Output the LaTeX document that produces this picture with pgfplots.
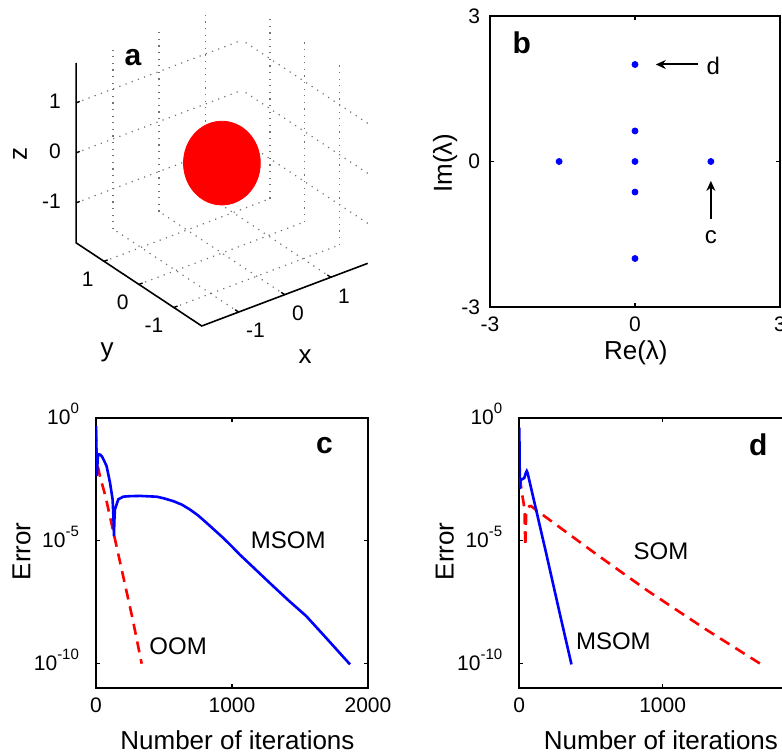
\documentclass[border=0pt]{standalone}
\usepackage{fontspec}
\setmainfont{Liberation Sans}
\usepackage{pgfplots}
\pgfplotsset{compat=1.18}
\usetikzlibrary{arrows.meta}

\newcommand\tickfont{\fontsize{10.5}{12}\selectfont}
\newcommand\labfont{\fontsize{13}{15}\selectfont}
\newcommand\txtfont{\fontsize{12}{14}\selectfont}
\newcommand\panfont{\fontsize{15}{17}\bfseries\selectfont}
\newcommand\ex[1]{\raisebox{5.8pt}[0pt][0pt]{\fontsize{7.5}{8}\selectfont#1}}

\tikzset{gridst/.style={black!55, line width=0.6pt, dash pattern=on 0.6pt off 2.7pt}}
\pgfplotsset{
  panel/.style={scale only axis, axis line style={line width=0.9pt},
    tick align=inside, major tick length=2pt,
    every tick/.style={black, line width=0.7pt},
    tick label style={font=\tickfont}, label style={font=\labfont},
    xticklabel style={yshift=-1.3pt}, yticklabel style={xshift=-1.5pt}},
  err/.style={panel, ymin=-11, ymax=0, ytick={-10,-5,0},
    yticklabels={10\ex{-10},10\ex{-5},10\ex{0}},
    yticklabel style={xshift=-3.5pt},
    xmin=0, xmax=2000, xtick={0,1000,2000}, xticklabels={0,1000,2000},
    height=135.3pt, ylabel={Error}, xlabel={Number of iterations}},
  msom/.style={blue, line width=1.3pt},
  oom/.style={red, line width=1.3pt, dash pattern=on 5.5pt off 3.5pt}
}

\begin{document}
\begin{tikzpicture}
\useasboundingbox (0,0) rectangle (391pt,376.5pt);
\clip (0,0) rectangle (391pt,376.5pt);

% (a) sphere in a box
\begin{axis}[at={(110.95pt,294.95pt)}, anchor=origin,
  x={(23.05pt,8.7pt)}, y={(-17.45pt,11.55pt)}, z={(0pt,25pt)},
  xmin=-1.8, xmax=1.8, ymin=-1.8, ymax=1.8, zmin=-1.8, zmax=1.8,
  hide axis, clip=false]
\pgfplotsinvokeforeach{-1,0,1}{
  \draw[gridst] (axis cs:#1,1.8,-1.8) -- (axis cs:#1,1.8,1.8);
  \draw[gridst] (axis cs:-1.8,1.8,#1) -- (axis cs:1.8,1.8,#1);
  \draw[gridst] (axis cs:1.8,#1,-1.8) -- (axis cs:1.8,#1,1.8);
  \draw[gridst] (axis cs:1.8,-1.8,#1) -- (axis cs:1.8,1.8,#1);
  \draw[gridst] (axis cs:#1,-1.8,-1.8) -- (axis cs:#1,1.8,-1.8);
  \draw[gridst] (axis cs:-1.8,#1,-1.8) -- (axis cs:1.8,#1,-1.8);
  \draw[line width=0.7pt] (axis cs:-1.8,1.8,#1) -- (axis cs:-1.72,1.8,#1);
  \draw[line width=0.7pt] (axis cs:-1.8,#1,-1.8) -- (axis cs:-1.72,#1,-1.8);
  \draw[line width=0.7pt] (axis cs:#1,-1.8,-1.8) -- (axis cs:#1,-1.7,-1.8);
}
\draw[line width=0.8pt] (axis cs:-1.8,1.8,1.8) -- (axis cs:-1.8,1.8,-1.8)
  -- (axis cs:-1.8,-1.8,-1.8) -- (axis cs:1.8,-1.8,-1.8);
\addplot3[only marks, mark=*, mark size=19.2pt, red,
  mark options={yscale=1.09, draw=red, fill=red}] coordinates {(0,0,0)};
\node[anchor=east, inner sep=0pt, xshift=-7.5pt, yshift=1pt, font=\tickfont] at (axis cs:-1.8,1.8,1) {1};
\node[anchor=east, inner sep=0pt, xshift=-7.5pt, yshift=1pt, font=\tickfont] at (axis cs:-1.8,1.8,0) {0};
\node[anchor=east, inner sep=0pt, xshift=-7.5pt, yshift=1pt, font=\tickfont] at (axis cs:-1.8,1.8,-1) {-1};
\node[anchor=north east, inner sep=0pt, xshift=-5pt, yshift=-5pt, font=\tickfont] at (axis cs:-1.8,1,-1.8) {1};
\node[anchor=north east, inner sep=0pt, xshift=-5pt, yshift=-5pt, font=\tickfont] at (axis cs:-1.8,0,-1.8) {0};
\node[anchor=north east, inner sep=0pt, xshift=-5pt, yshift=-5pt, font=\tickfont] at (axis cs:-1.8,-1,-1.8) {-1};
\node[anchor=north west, inner sep=0pt, xshift=3.5pt, yshift=-5.5pt, font=\tickfont] at (axis cs:-1,-1.8,-1.8) {-1};
\node[anchor=north west, inner sep=0pt, xshift=3.5pt, yshift=-5.5pt, font=\tickfont] at (axis cs:0,-1.8,-1.8) {0};
\node[anchor=north west, inner sep=0pt, xshift=3.5pt, yshift=-5.5pt, font=\tickfont] at (axis cs:1,-1.8,-1.8) {1};
\end{axis}
\node[font=\labfont] at (152.5pt,198pt) {x};
\node[font=\labfont] at (53.5pt,200.5pt) {y};
\node[font=\labfont, rotate=90] at (10pt,299.5pt) {z};
\node[font=\panfont] at (66.5pt,347.5pt) {a};

% (b) eigenvalues
\begin{axis}[panel, at={(245pt,223pt)}, anchor=south west,
  width=145pt, height=145.5pt,
  xmin=-3, xmax=3, ymin=-3, ymax=3,
  xtick={-3,0,3}, ytick={-3,0,3}, xticklabels={-3,0,3}, yticklabels={-3,0,3},
  xlabel={Re(λ)}, ylabel={Im(λ)},
  xlabel style={at={(axis description cs:0.503,0)}, anchor=center, yshift=-23pt},
  ylabel style={at={(axis description cs:-0.155,0.494)}, anchor=center}]
\addplot[only marks, mark=*, mark size=1.5pt, blue] coordinates {
  (0,2) (0,0.63) (0,0) (0,-0.63) (0,-2) (-1.57,0) (1.57,0)};
\draw[line width=1pt, -{Stealth[length=5pt, width=4.5pt]}] (axis cs:1.30,2) -- (axis cs:0.43,2);
\draw[line width=1pt, -{Stealth[length=5pt, width=4.5pt]}] (axis cs:1.57,-1.19) -- (axis cs:1.57,-0.40);
\node[font=\txtfont] at (axis cs:1.62,1.98) {d};
\node[font=\txtfont] at (axis cs:1.57,-1.56) {c};
\node[font=\panfont] at (axis cs:-2.34,2.44) {b};
\end{axis}

% (c) error, OOM vs MSOM
\begin{axis}[err, at={(48pt,32.35pt)}, anchor=south west, width=136pt,
  xlabel style={at={(axis description cs:0.52,0)}, anchor=center, yshift=-25.8pt},
  ylabel style={at={(axis description cs:-0.2735,0.506)}, anchor=center}]
\addplot[oom] coordinates {(0,-0.5) (4,-1.3) (10,-1.9) (30,-2.4) (70,-3.2) (100,-3.95)
  (140,-4.95) (200,-6.45) (270,-8.2) (336,-10.0)};
\addplot[msom] coordinates {(0,-0.34) (3,-1.5) (5,-2.37) (8,-2.25) (12,-1.7) (17,-1.49)
  (30,-1.5) (42,-1.56) (60,-1.75) (78,-1.97) (103,-2.64) (122,-3.32) (128,-4.0)
  (132,-4.81) (135,-4.2) (139,-3.73) (150,-3.55) (164,-3.32) (200,-3.21) (250,-3.19)
  (323,-3.18) (400,-3.2) (445,-3.21) (500,-3.28) (567,-3.39) (630,-3.53) (690,-3.73)
  (750,-3.97) (812,-4.27) (870,-4.56) (934,-4.88) (1000,-5.24) (1056,-5.56)
  (1150,-6.05) (1301,-6.84) (1420,-7.45) (1545,-8.06) (1700,-9.0) (1868,-10.03)};
\node[font=\txtfont] at (axis cs:1413,-5.0) {MSOM};
\node[font=\txtfont] at (axis cs:604,-9.28) {OOM};
\node[font=\panfont] at (axis cs:1680,-1.15) {c};
\end{axis}

% (d) error, SOM vs MSOM
\begin{axis}[err, at={(259.65pt,32.35pt)}, anchor=south west, width=143.35pt,
  xlabel style={at={(axis description cs:0.494,0)}, anchor=center, yshift=-25.8pt},
  ylabel style={at={(axis description cs:-0.2595,0.506)}, anchor=center}]
\addplot[oom] coordinates {(0,-2.44) (8,-2.6) (16,-2.98) (28,-3.4) (36,-3.7) (42,-5.22)
  (48,-3.9) (58,-3.73) (70,-3.6) (82,-3.59) (105,-3.7) (549,-5.6) (899,-7.05)
  (1300,-8.6) (1705,-10.09)};
\addplot[msom] coordinates {(0,-0.4) (2,-1.5) (4,-2.9) (8,-2.55) (20,-2.5) (35,-2.45)
  (45,-2.25) (52,-2.17) (58,-2.25) (187,-5.5) (280,-7.9) (364,-10.03)};
\node[font=\txtfont] at (axis cs:989,-5.42) {SOM};
\node[font=\txtfont] at (axis cs:656,-9.08) {MSOM};
\node[font=\panfont] at (axis cs:1668,-1.09) {d};
\end{axis}
\end{tikzpicture}
\end{document}
